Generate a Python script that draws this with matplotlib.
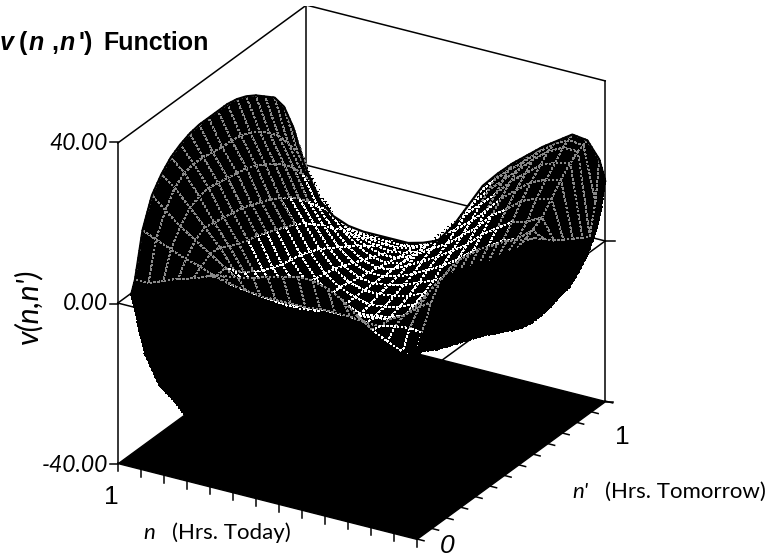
# -*- coding: utf-8 -*-
"""
v(n,n') function - surface over hours today and hours tomorrow
"""

import numpy as np
import matplotlib
matplotlib.use('Agg')
import matplotlib.pyplot as plt
from matplotlib.lines import Line2D
from mpl_toolkits.mplot3d.art3d import Poly3DCollection

#==============================================================================
# data
#==============================================================================

n_vals = [0, .02, .06, .11, .16, .21, .26, .31, .36, .41, .46, .51, .56, .61, .66, .71,
          .76, .81, .86, .91, .955]
np_vals = [0, .02, .06, .11, .16, .21, .26, .31, .36, .41, .46, .51, .56, .61, .66, .71,
           .76, .81, .86, .91, .95, .98, 1]

# one row per n, one column per n'
v_vals = [
    [7, 6, 5, 3.5, 2.5, 1.5, .5, -.5, -1.5, -3, -4, -5.5, -6.5, -7, -7, -6.5, -5.5, -5, -3, 0, 4, 9, 15],
    [6, 4, 9, 15, 19, 20, 20.5, 20, 19.5, 18.5, 17.5, 16.5, 15, 13.5, 12, 10, 8, 6.5, 5, 3.5, 2.5, 10, 20],
    [-1, 5, 9.5, 13, 15, 15.5, 15, 14, 13, 12, 11, 10.5, 10, 10, 10.5, 11.5, 13, 16, 19, 21.5, 23, 23.5, 24],
    [-8, 6.5, 9, 10, 10, 9.5, 9, 8, 7, 6, 5.5, 5.5, 5.5, 6, 7, 8.5, 11, 15, 18, 20.5, 23, 23.8, 24.5],
    [-16, 8.5, 8, 8, 6, 4.5, 3.5, 2.5, 2, 1.5, 1.5, 1.5, 2, 3, 4.5, 7, 10, 13.5, 16.5, 19, 21, 21.8, 22],
    [-24, 11, 8, 7.5, 4, 2, .5, 0, -1, -1.5, -1.5, -1, -.5, .5, 2, 4.5, 7.5, 10.5, 13.5, 16, 18, 19, 19.5],
    [-31, 14, 8.5, 7, 3, 0, -2, -3, -3.5, -4, -4, -3.5, -2.5, -1.5, 0, 2.5, 5, 8, 10.5, 13, 14.5, 15.5, 16.5],
    [-35, 16, 8.5, 7, 1.5, -1.5, -4, -6, -7, -7.5, -7.5, -6.5, -5.5, -4.5, -3, -.5, 1.5, 4, 6.5, 9, 11, 12.5, 13.5],
    [-37, 17, 8.5, 6.5, 0, -3, -6, -8, -9, -9, -9, -8.5, -7.5, -6.5, -5, -3, -1, 1, 3, 5.5, 7.5, 9, 10],
    [-38, 17, 8, 5.5, -1, -4, -7, -9, -10, -10, -10, -10, -9, -8, -6.5, -5, -3.5, -2, 0, 2, 3.5, 5, 6],
    [-38, 16, 8, 5, -1, -4, -7, -9, -10, -10.5, -11, -10.5, -10, -9, -8, -7, -5.5, -4, -2.5, -1.5, -1, -.5, 0],
    [-38, 15, 8, 5, -.5, -3.5, -6.5, -8.5, -10, -10.5, -11, -11, -10.5, -9.5, -9, -8.5, -7.5, -6.5, -6, -5.5, -5.5, -5.5, -6],
    [-38, 14, 8, 5.5, .5, -2.5, -5, -7, -8.5, -9, -9.5, -9.5, -9.5, -9.5, -9.5, -9.5, -9.5, -9.5, -9.5, -10, -10, -10, -10.5],
    [-37, 13, 8.5, 6.5, 2, -.5, -3, -5, -6, -7, -7.5, -8, -8, -8.5, -9, -9.5, -10, -10.5, -11, -11.5, -11.5, -12, -12],
    [-37, 12.5, 9, 8, 4.5, 2, 0, -2, -3, -3.5, -4, -5, -5.5, -6, -7, -8, -9, -10, -11, -12, -12.5, -13, -13],
    [-31, 11.5, 10, 10.5, 8, 6, 4.5, 3, 2, 1, .5, 0, -1, -2, -3.5, -5, -6.5, -8, -10, -11.5, -12.5, -13, -13],
    [-25, 10, 11.5, 13, 13, 11.5, 10.5, 9.5, 9, 8, 7, 6, 5, 3.5, 1.5, -.5, -3, -5, -8, -10.5, -12, -13, -13],
    [-21, 9, 12.5, 15.5, 17, 16.5, 16, 15.5, 15, 14, 13, 12, 10.5, 9, 7, 4.5, 1.5, -1, -4.5, -8.5, -11, -12.5, -13],
    [-18, 7.5, 14, 18, 21, 22, 22.5, 22, 21.5, 21, 20.5, 19.5, 18, 16.5, 14.5, 12, 8.5, 5, 0, -5.5, -9, -11.5, -12.5],
    [-11, 6, 15.5, 21, 25, 27, 27.5, 27.5, 27, 26.5, 26.5, 26, 25, 23.5, 21.5, 19, 15.5, 11.5, 6, -.5, -5, -9, -11],
    [3, 6, 17, 24, 27.5, 30, 31.5, 32.5, 33, 33, 33, 33, 32.5, 31.5, 30, 28, 26, 22, 15, 5, -1, -5, -8],
]

z_ticks = [-40, 0, 40]
z_ticklabels = ['-40.00', '0.00', '40.00']
edge_tick_count = 14

#==============================================================================
# plot settings
#==============================================================================

W, H = 767, 559
frame_style = {'color': 'k', 'lw': 1.1, 'zorder': 1}
font_body = 'Lato'
font_bold = 'Liberation Sans'


def fig_text(x, y, s, **kw):
    # x, y in picture pixels from the top left
    return fig.text(x/W, 1 - y/H, s, **kw)


def fig_line(x, y):
    fig.add_artist(Line2D([a/W for a in x], [1 - b/H for b in y], color='k', lw=1.1))


#==============================================================================
# plot
#==============================================================================

fig = plt.figure(figsize=(W/100, H/100), dpi=100)
side = 547
ax = fig.add_axes([80.6/W, 6.1/H, side/W, side/H], projection='3d', proj_type='ortho',
                  computed_zorder=False)
ax.view_init(elev=25.5, azim=-149.5)
ax.set_box_aspect((373, 348, 356), zoom=1.1)
ax.set_xlim(0, 1)
ax.set_ylim(0, 1)
ax.set_zlim(-40, 40)
ax.set_axis_off()
ax.patch.set_alpha(0)

# frame: x is n', y is n
for a, b in [((0, 1), (1, 1)), ((1, 1), (1, 0)), ((1, 0), (0, 0)), ((0, 0), (0, 1))]:
    ax.plot([a[0], b[0]], [a[1], b[1]], [0, 0], **frame_style)
for a, b in [((0, 1), (1, 1)), ((1, 1), (1, 0))]:
    ax.plot([a[0], b[0]], [a[1], b[1]], [40, 40], **frame_style)
for c in [(0, 1), (1, 1), (1, 0)]:
    ax.plot([c[0], c[0]], [c[1], c[1]], [-40, 40], **frame_style)

# ticks under the floor
for t in np.linspace(0, 1, edge_tick_count):
    ax.plot([0, 0], [t, t], [-40, -42], **frame_style)
    ax.plot([t, t], [0, -0.025], [-40, -40], **frame_style)

# floor
floor = Poly3DCollection([[(0, 0, -40), (1, 0, -40), (1, 1, -40), (0, 1, -40)]],
                         facecolors='k', edgecolors='k', zorder=2)
ax.add_collection3d(floor)

# surface
Z = np.array(v_vals, dtype=float)
polys = []
edges = []
for i in range(len(n_vals) - 1):
    for j in range(len(np_vals) - 1):
        cell = [Z[i, j], Z[i, j+1], Z[i+1, j+1], Z[i+1, j]]
        polys.append([(np_vals[j], n_vals[i], cell[0]),
                      (np_vals[j+1], n_vals[i], cell[1]),
                      (np_vals[j+1], n_vals[i+1], cell[2]),
                      (np_vals[j], n_vals[i+1], cell[3])])
        # strips along the front sides stay solid black
        if i == 0 or j == 0:
            edges.append('k')
        elif np.mean(cell) > 8:
            edges.append('#8a8a8a')   # mesh nearly closes up on the steep sides
        else:
            edges.append('w')
surf = Poly3DCollection(polys, facecolors='k', edgecolors=edges, linewidths=0.45, zorder=3,
                        linestyles=[(0, (2.2, 3.2))], antialiased=False)
ax.add_collection3d(surf)

# solid outline along the back edges of the surface
ax.plot(np_vals, [n_vals[-1]]*len(np_vals), Z[-1, :], color='k', lw=1.6, zorder=4)
ax.plot([np_vals[-1]]*len(n_vals), n_vals, Z[:, -1], color='k', lw=1.6, zorder=4)

# z ticks
fig_line([110, 118], [142, 142])
fig_line([110, 118], [304, 304])
fig_line([110, 118], [464, 464])
fig_line([606, 615], [241, 241])
fig_line([606, 613], [402, 402])

for z, lab in zip(z_ticks, z_ticklabels):
    fig_text(108, 304 - z*4.025, lab, ha='right', va='center', family=font_body,
             style='italic', size=16.5)

# title
title_bold = {'family': font_bold, 'weight': 'bold', 'size': 18, 'va': 'center'}
fig_text(0, 43, 'v', style='italic', **title_bold)
fig_text(19, 43, '(', **title_bold)
fig_text(29, 43, 'n', style='italic', **title_bold)
fig_text(51, 43, ',', **title_bold)
fig_text(60, 43, 'n', style='italic', **title_bold)
fig_text(79, 43, "')", **title_bold)
fig_text(103, 43, 'Function', **title_bold)

# axis labels
fig_text(28, 306, "v(n,n')", family=font_body, style='italic', size=22, rotation=90,
         ha='center', va='center')
fig_text(111, 497, '1', family=font_bold, size=19, ha='center', va='center')
fig_text(447, 546, '0', family=font_bold, style='italic', size=19, ha='center', va='center')
fig_text(622, 437, '1', family=font_bold, size=19, ha='center', va='center')
fig_text(143, 533, 'n', family=font_body, style='italic', size=16, va='center')
fig_text(172, 533, '(Hrs. Today)', family=font_body, size=16, va='center')
fig_text(572, 492, "n'", family=font_body, style='italic', size=16, va='center')
fig_text(605, 492, '(Hrs. Tomorrow)', family=font_body, size=16, va='center')

fig.savefig('out.png', dpi=100)
